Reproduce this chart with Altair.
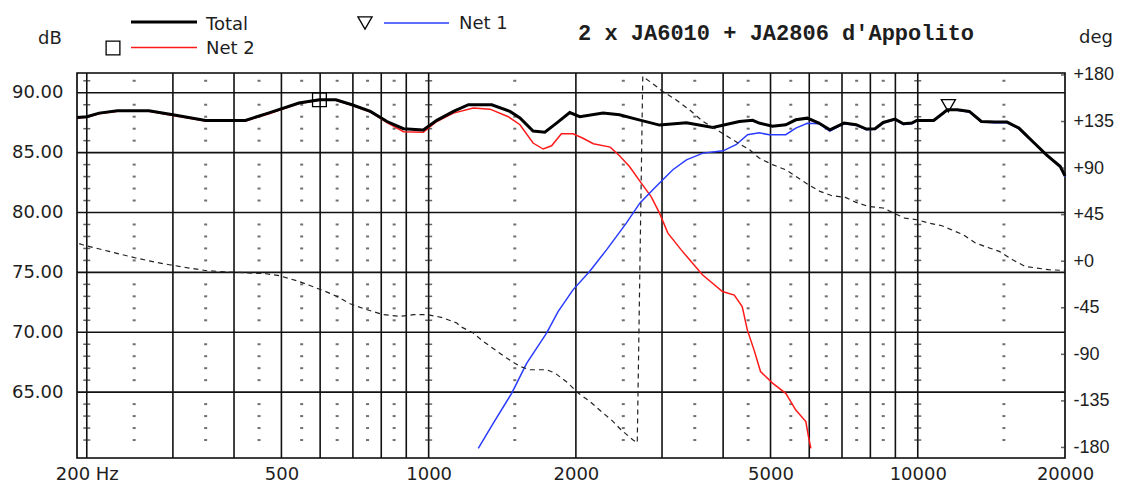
import altair as alt
import pandas as pd

# ---------------- data ----------------
total_freq = [191, 200, 212, 231, 268, 300, 350, 422, 470, 543, 598, 646, 697, 760, 822, 888, 975,
              1039, 1124, 1206, 1346, 1466, 1537, 1635, 1728, 1826, 1943, 2037, 2273, 2456, 2656,
              2965, 3365, 3812, 4318, 4596, 4740, 5047, 5372, 5632, 5946, 6278, 6611, 7070, 7482,
              7853, 8176, 8500, 8985, 9343, 9721, 9953, 10778, 11496, 12050, 12748, 13490, 14380,
              15220, 16100, 17180, 18330, 19560, 20000]
total_db = [87.94, 88.0, 88.3, 88.5, 88.5, 88.16, 87.69, 87.69, 88.3, 89.14, 89.42, 89.42, 89.0,
            88.44, 87.6, 87.0, 86.9, 87.7, 88.44, 89.0, 89.0, 88.44, 87.9, 86.8, 86.7, 87.46, 88.35,
            88.0, 88.3, 88.16, 87.8, 87.3, 87.5, 87.1, 87.6, 87.7, 87.47, 87.2, 87.33, 87.74, 87.88,
            87.47, 86.9, 87.47, 87.33, 86.97, 87.0, 87.52, 87.8, 87.41, 87.47, 87.69, 87.69, 88.58,
            88.58, 88.44, 87.6, 87.55, 87.55, 87.05, 85.93, 84.82, 83.84, 83.06]

net2_freq = [191, 200, 212, 231, 268, 300, 350, 422, 470, 543, 598, 646, 697, 760, 822, 888, 975,
             1039, 1124, 1234, 1335, 1455, 1537, 1635, 1714, 1784, 1868, 1973, 2068, 2171, 2351,
             2456, 2574, 2721, 2850, 2965, 3084, 3284, 3628, 3988, 4215, 4376, 4482, 4626, 4770,
             5047, 5372, 5632, 5904, 5978, 6046]
net2_db = [87.9, 87.95, 88.25, 88.45, 88.45, 88.1, 87.65, 87.65, 88.22, 89.1, 89.38, 89.38, 88.95,
           88.4, 87.5, 86.75, 86.7, 87.6, 88.3, 88.72, 88.63, 88.0, 87.33, 85.8, 85.3, 85.57, 86.57,
           86.57, 86.2, 85.74, 85.46, 84.74, 83.84, 82.45, 81.33, 79.95, 78.28, 76.88, 74.8, 73.4,
           73.1, 72.15, 70.2, 68.53, 66.72, 65.75, 64.9, 63.5, 62.54, 61.29, 60.3]

net1_freq = [1263, 1355, 1478, 1586, 1742, 1839, 1973, 2133, 2310, 2536, 2702, 2873, 3011, 3157,
             3365, 3638, 3999, 4251, 4488, 4740, 4970, 5372, 5632, 5946, 6278, 6611, 7070, 7482,
             7853, 8176, 8500, 8985, 9343, 9721, 9953, 10778, 11496, 12050, 12748, 13490, 14380,
             15220, 16100, 17180, 18330, 19560, 20000]
net1_db = [60.3, 62.4, 64.9, 67.4, 69.92, 71.73, 73.54, 75.07, 76.88, 79.11, 80.78, 81.9, 82.73,
           83.57, 84.4, 84.96, 85.15, 85.66, 86.5, 86.65, 86.5, 86.5, 87.05, 87.45, 87.42, 86.8,
           87.42, 87.28, 86.92, 86.95, 87.47, 87.75, 87.36, 87.42, 87.64, 87.64, 88.53, 88.53,
           88.39, 87.55, 87.5, 87.5, 87.0, 85.88, 84.8, 83.9, 83.0]

phase_freq = [193, 196, 222, 252, 277, 295, 324, 352, 404, 465, 495, 543, 582, 615, 649, 691, 740,
              809, 874, 931, 992, 1039, 1072, 1142, 1160, 1234, 1293, 1443, 1537, 1611, 1742, 1811,
              1927, 2021, 2135, 2273, 2381, 2473, 2614, 2670, 2740, 2873, 3011, 3203, 3412, 3638,
              3932, 4184, 4526, 4740, 5047, 5372, 5632, 5978, 6309, 6676, 7115, 7482, 7914, 8500,
              8985, 9400, 9953, 10530, 11200, 12380, 13120, 14010, 14680, 15630, 16570, 18520, 20000]
phase_deg = [17, 15.9, 9.5, 3.1, -1.1, -3.4, -6.6, -9.2, -10.8, -12.1, -14, -19.5, -24.9, -29.2,
             -34, -41.1, -46.2, -51.7, -53.3, -51.7, -51.7, -53.3, -54.9, -59.7, -63, -69.4, -77.5,
             -93.6, -101.7, -104.9, -104.9, -108, -117.7, -127.4, -135.5, -146.7, -154.8, -162.9,
             -172.5, -175.5, 178.6, 171.5, 164.1, 156.1, 146.4, 135.1, 125.4, 117.4, 107.8, 99.7,
             93.3, 88.4, 82, 73.9, 67.5, 63.3, 61.7, 56.8, 53, 51.4, 45.9, 41.7, 40.1, 36.9, 34.3,
             25.6, 17.6, 12.8, 9.5, 1.4, -5, -8.2, -9]

square_freq = [598]
square_db = [89.42]
tri_freq = [11550]
tri_db = [88.58]

# axes / grid
x_label_values = [200, 500, 1000, 2000, 5000, 10000, 20000]
db_grid = [65, 70, 75, 80, 85, 90]
deg_values = [-180, -135, -90, -45, 0, 45, 90, 135, 180]
grid_freqs = [200, 300, 400, 500, 600, 700, 800, 900, 1000, 2000, 3000, 4000, 5000, 6000,
              7000, 8000, 9000, 10000]
dot_freqs = [250, 350, 450, 550, 650, 750, 850, 1500, 2500, 3500, 4500, 5500, 6500, 7500,
             8500, 15000]
decade_freqs = [200, 1000, 10000]
minor_db = [61, 62, 63, 64, 66, 67, 68, 69, 71, 72, 73, 74, 76, 77, 78, 79, 81, 82, 83, 84,
            86, 87, 88, 89, 91]

legend_names = ["Total", "Net 2", "Net 1"]
title_text = "2 x JA6010 + JA2806 d'Appolito"
left_unit = "dB"
right_unit = "deg"

# ---------------- styling ----------------
W, H = 988, 385
FONT = "DejaVu Sans"
INK = "#1e1e1e"
FS = 18

xs = alt.Scale(type="log", domain=[191, 20000], nice=False)
ys_db = alt.Scale(domain=[59.5, 91.65], nice=False, zero=False)
ys_deg = alt.Scale(domain=[-190.2, 181.9], nice=False, zero=False)

x_axis = alt.Axis(values=x_label_values, format="d",
                  labelExpr="datum.value == 200 ? '200 Hz' : datum.label",
                  grid=False, ticks=False, tickSize=0, domain=False, title=None,
                  labelFont=FONT, labelFontSize=FS, labelColor=INK, labelPadding=16,
                  labelBaseline="middle", labelFlush=False, labelOverlap=False)
left_axis = alt.Axis(values=db_grid, format=".2f", grid=False, ticks=False, tickSize=0,
                     domain=False, title=None, labelFont=FONT, labelFontSize=FS,
                     labelColor=INK, labelPadding=14)
right_axis = alt.Axis(orient="right", values=deg_values, grid=False, ticks=False, tickSize=0,
                      domain=False, title=None, labelFont="Liberation Sans", labelFontSize=18,
                      labelColor=INK, labelPadding=8, labelFlush=False, labelOverlap=False,
                      labelExpr="datum.value > 0 ? '+' + datum.value : (datum.value == 0 ? '+0' : '' + datum.value)")

# ---------------- dB group ----------------
hgrid = alt.Chart(pd.DataFrame({"db": db_grid})).mark_rule(color="#111", strokeWidth=1.6).encode(
    y=alt.Y("db:Q", scale=ys_db, axis=left_axis))
vgrid = alt.Chart(pd.DataFrame({"f": grid_freqs})).mark_rule(color="#111", strokeWidth=1.6).encode(
    x=alt.X("f:Q", scale=xs, axis=x_axis))

dots_df = pd.DataFrame([(f, d) for f in dot_freqs for d in minor_db], columns=["f", "db"])
dots = alt.Chart(dots_df).mark_tick(orient="horizontal", size=3, thickness=2, color="#333").encode(
    x=alt.X("f:Q", scale=xs), y=alt.Y("db:Q", scale=ys_db))
dec_df = pd.DataFrame([(f, d) for f in decade_freqs for d in minor_db], columns=["f", "db"])
decs = alt.Chart(dec_df).mark_tick(orient="horizontal", size=7, thickness=1.5, color="#222").encode(
    x=alt.X("f:Q", scale=xs), y=alt.Y("db:Q", scale=ys_db))

def curve(fr, vals, color, width):
    return alt.Chart(pd.DataFrame({"f": fr, "v": vals})).mark_line(
        color=color, strokeWidth=width, interpolate="linear").encode(
        x=alt.X("f:Q", scale=xs), y=alt.Y("v:Q", scale=ys_db))

red = curve(net2_freq, net2_db, "#ff1a1a", 1.5)
blue = curve(net1_freq, net1_db, "#2a3cff", 1.5)
black = curve(total_freq, total_db, "#000000", 3)

sq = alt.Chart(pd.DataFrame({"f": square_freq, "v": square_db})).mark_point(
    shape="square", filled=False, size=190, color="black", strokeWidth=1.3, opacity=1).encode(
    x=alt.X("f:Q", scale=xs), y=alt.Y("v:Q", scale=ys_db))
tri = alt.Chart(pd.DataFrame({"f": tri_freq, "v": tri_db})).mark_point(
    shape="triangle-down", filled=False, size=200, color="black", strokeWidth=1.3, opacity=1,
    yOffset=-4).encode(x=alt.X("f:Q", scale=xs), y=alt.Y("v:Q", scale=ys_db))

db_group = alt.layer(hgrid, vgrid, dots, decs, red, blue, black, sq, tri)

# ---------------- deg group ----------------
phase = alt.Chart(pd.DataFrame({"f": phase_freq, "p": phase_deg})).mark_line(
    color="#222", strokeWidth=1.2, strokeDash=[5, 4]).encode(
    x=alt.X("f:Q", scale=xs), y=alt.Y("p:Q", scale=ys_deg, axis=right_axis))
rticks = alt.Chart(pd.DataFrame({"f": [20000] * len(deg_values), "p": deg_values})).mark_tick(
    orient="horizontal", size=4, thickness=1.5, color="#222", xOffset=-2).encode(
    x=alt.X("f:Q", scale=xs), y=alt.Y("p:Q", scale=ys_deg, axis=right_axis))
deg_group = alt.layer(phase, rticks)

# ---------------- legend & texts ----------------
one = pd.DataFrame({"k": [0]})

def seg(x1, x2, y, color, width):
    return alt.Chart(one).mark_rule(color=color, strokeWidth=width).encode(
        x=alt.value(x1), x2=alt.value(x2), y=alt.value(y))

def label(txt, x, y, align="left", font=FONT, size=FS, weight="normal", baseline="middle"):
    return alt.Chart(one).mark_text(align=align, baseline=baseline, font=font, fontSize=size,
                                    fontWeight=weight, color=INK).encode(
        x=alt.value(x), y=alt.value(y), text=alt.value(txt))

leg = [
    seg(54, 120, -51, "black", 3),
    label(legend_names[0], 129, -48.5),
    seg(54, 120, -25.5, "#ff1a1a", 1.5),
    label(legend_names[1], 129, -24.5),
    alt.Chart(one).mark_point(shape="square", filled=False, size=190, color="black",
                              strokeWidth=1.3, opacity=1).encode(x=alt.value(36), y=alt.value(-25)),
    alt.Chart(one).mark_point(shape="triangle-down", filled=False, size=200, color="black",
                              strokeWidth=1.3, opacity=1).encode(x=alt.value(288), y=alt.value(-50)),
    seg(307, 372, -50, "#2a3cff", 1.5),
    label(legend_names[2], 382, -49),
    label(left_unit, -27, -34, align="center"),
    label(right_unit, 1019, -35, align="center"),
    label(title_text, 501, -33, font="Liberation Mono", size=22, weight="bold",
          baseline="alphabetic"),
]

chart = alt.layer(db_group, deg_group, *leg).resolve_scale(y="independent").properties(
    width=W, height=H,
    autosize=alt.AutoSizeParams(type="none"),
    padding={"left": 69, "top": 65, "right": 52, "bottom": 24},
    background="white",
).configure_view(stroke="black", strokeWidth=1.6)

chart.save("out.html", embed_options={"renderer": "svg", "actions": False})
